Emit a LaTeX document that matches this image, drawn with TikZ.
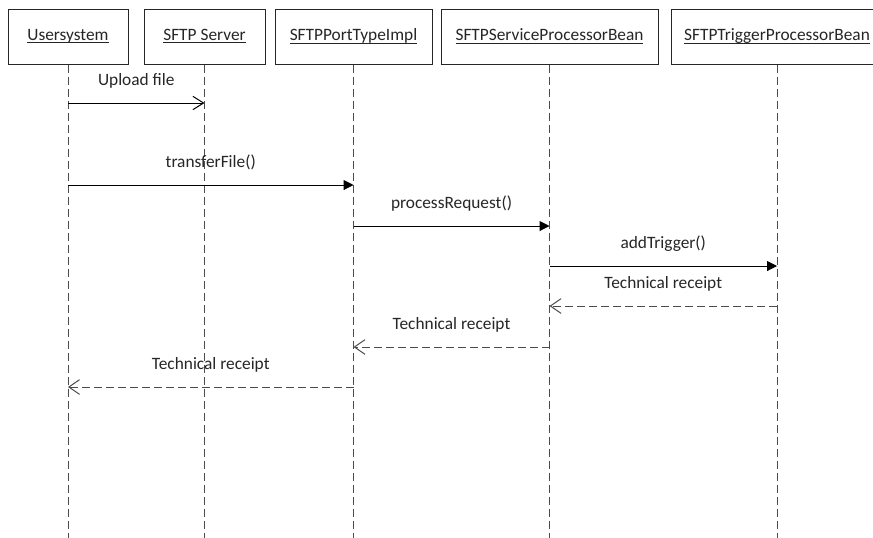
\documentclass[tikz,border=0pt]{standalone}
\usepackage{amsmath}
\usepackage{fontspec}
\setmainfont{Carlito}
\usetikzlibrary{arrows.meta, positioning}

\newcommand\objname[1]{\underline{\smash[b]{#1}}}

\begin{document}
\begin{tikzpicture}[x=0.75pt, y=-0.75pt, font=\fontsize{13}{15}\selectfont,
		obj/.style={draw=black!85, line width=0.75pt, minimum height=41.25pt, inner sep=0pt, text=black!85},
		lifeline/.style={draw=black!70, line width=0.75pt, dash pattern=on 6pt off 3pt},
		call/.style={draw=black, line width=0.75pt, -{Triangle[length=7.5pt, width=7.5pt]}},
		send/.style={draw=black, line width=0.75pt, -{Straight Barb[length=8pt, width=10pt]}},
		reply/.style={lifeline, -{Straight Barb[length=8pt, width=11pt]}},
		msg/.style={midway, anchor=base, yshift=13pt, text=black!85}]
	\path[use as bounding box, fill=white] (0,0) rectangle (873,537);
	\clip (0,0) rectangle (873,537);

	% objects
	\node[obj, minimum width=90pt] (us) at (68,36.5) {\objname{Usersystem}};
	\node[obj, minimum width=90.75pt] (srv) at (204.5,36.5) {\objname{SFTP Server}};
	\node[obj, minimum width=117.75pt] (port) at (353.5,36.5) {\objname{SFTPPortTypeImpl}};
	\node[obj, minimum width=162.75pt] (svc) at (549.5,36.5) {\objname{SFTPServiceProcessorBean}};
	\node[obj, minimum width=159pt] (trig) at (777,36.5) {\objname{SFTPTriggerProcessorBean}};

	% lifelines
	\coordinate (end) at (0,540);
	\foreach \o in {us, srv, port, svc, trig}
		\draw[lifeline] (\o.south) -- (\o.south |- end);

	% messages
	\coordinate (m1) at (0,103);
	\coordinate (m2) at (0,185);
	\coordinate (m3) at (0,226);
	\coordinate (m4) at (0,266);
	\coordinate (m5) at (0,306);
	\coordinate (m6) at (0,347);
	\coordinate (m7) at (0,387);

	\draw[send] (us |- m1) -- (srv |- m1) node[msg] {Upload file};
	\draw[call] (us |- m2) -- (port |- m2) node[msg] {transferFile()};
	\draw[call] (port |- m3) -- (svc |- m3) node[msg] {processRequest()};
	\draw[call] (svc |- m4) -- (trig |- m4) node[msg] {addTrigger()};
	\draw[reply] (trig |- m5) -- (svc |- m5) node[msg] {Technical receipt};
	\draw[reply] (svc |- m6) -- (port |- m6) node[msg] {Technical receipt};
	\draw[reply] (port |- m7) -- (us |- m7) node[msg] {Technical receipt};
\end{tikzpicture}
\end{document}
